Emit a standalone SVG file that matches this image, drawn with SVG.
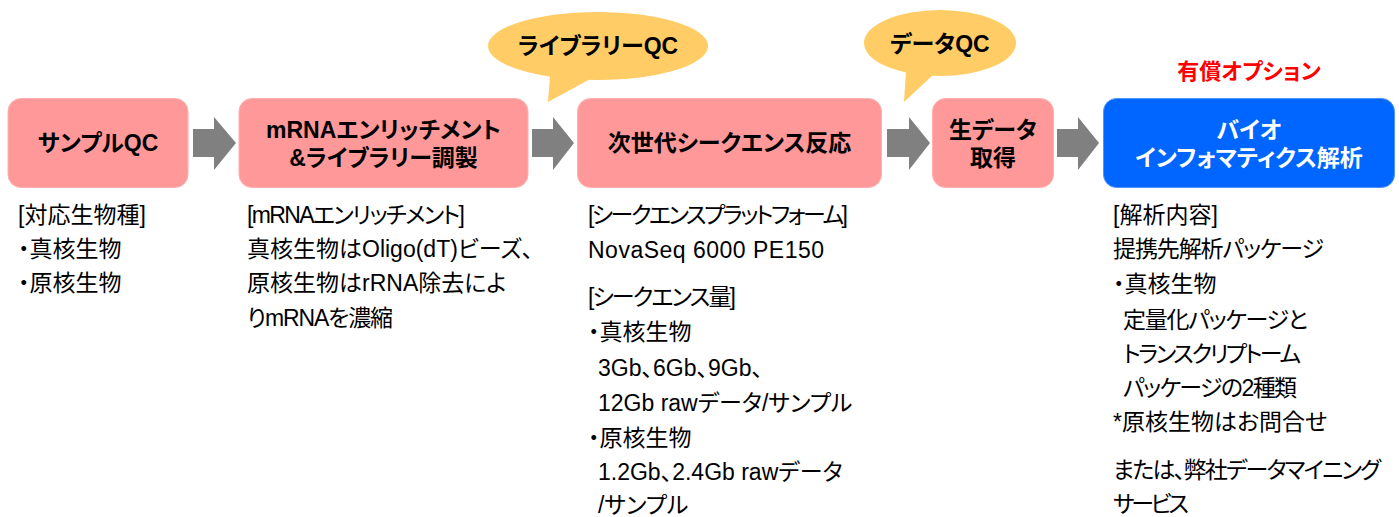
<svg xmlns="http://www.w3.org/2000/svg" width="1399" height="517" viewBox="0 0 1399 517">
<style>
text{font-family:"Liberation Sans","Noto Sans CJK JP",sans-serif;font-feature-settings:"palt";}
.box{fill:#FF9999;stroke:#FFB0B0;stroke-width:1;}
.blue{fill:#0066FF;stroke:#4D94FF;stroke-width:1;}
.ttl{font-size:23px;font-weight:bold;fill:#000;text-anchor:middle;}
.wt{fill:#fff;}
.body{font-size:23px;fill:#000;}
.call{fill:#FFCC66;}
.arr{fill:#808080;}
.red{font-size:22px;font-weight:bold;fill:#FF0000;text-anchor:middle;}
</style>
<g id="connectors">
<polygon class="arr" points="193,129 214,129 214,117 236,143 214,170 214,157 193,157"/>
<polygon class="arr" points="532,129 553,129 553,117 574,143 553,170 553,157 532,157"/>
<polygon class="arr" points="887,129 909,129 909,117 930,143 909,170 909,157 887,157"/>
<polygon class="arr" points="1057,129 1078,129 1078,117 1099,143 1078,170 1078,157 1057,157"/>
</g>
<g id="callout-library-qc">
<ellipse class="call" cx="598" cy="46" rx="110" ry="34"/>
<polygon class="call" points="550,76 548,102 592,78"/>
<text class="ttl" x="598" y="54">ライブラリーQC</text>
</g>
<g id="callout-data-qc">
<ellipse class="call" cx="940" cy="43" rx="76" ry="33"/>
<polygon class="call" points="906,71 904,102 934,74"/>
<text class="ttl" x="940" y="52">データQC</text>
</g>
<g id="node-sample-qc">
<rect class="box" x="8" y="98.5" width="180" height="89" rx="13"/>
<text class="ttl" x="98" y="151">サンプルQC</text>
<text class="body" x="18" y="223">[対応生物種]</text>
<text class="body" x="18" y="257">・真核生物</text>
<text class="body" x="18" y="291">・原核生物</text>
</g>
<g id="node-library">
<rect class="box" x="239" y="98.5" width="289" height="89" rx="13"/>
<text class="ttl" x="383.5" y="138">mRNAエンリッチメント</text>
<text class="ttl" x="383.5" y="166">&amp;ライブラリー調製</text>
<text class="body" x="247" y="223" textLength="218">[mRNAエンリッチメント]</text>
<text class="body" x="247" y="257">真核生物はOligo(dT)ビーズ、</text>
<text class="body" x="247" y="291">原核生物はrRNA除去によ</text>
<text class="body" x="247" y="326" textLength="146">りmRNAを濃縮</text>
</g>
<g id="node-sequencing">
<rect class="box" x="577.5" y="98.5" width="304" height="89" rx="13"/>
<text class="ttl" x="729.5" y="151">次世代シークエンス反応</text>
<text class="body" x="588" y="223" textLength="260">[シークエンスプラットフォーム]</text>
<text class="body" x="588" y="258" textLength="236">NovaSeq 6000 PE150</text>
<text class="body" x="588" y="305" textLength="148">[シークエンス量]</text>
<text class="body" x="588" y="340">・真核生物</text>
<text class="body" x="598" y="376">3Gb、6Gb、9Gb、</text>
<text class="body" x="598" y="411">12Gb rawデータ/サンプル</text>
<text class="body" x="588" y="446">・原核生物</text>
<text class="body" x="598" y="480">1.2Gb、2.4Gb rawデータ</text>
<text class="body" x="598" y="513">/サンプル</text>
</g>
<g id="node-raw-data">
<rect class="box" x="932.5" y="98.5" width="121" height="89" rx="13"/>
<text class="ttl" x="993" y="138">生データ</text>
<text class="ttl" x="993" y="166">取得</text>
</g>
<g id="node-bioinformatics">
<text class="red" x="1249" y="79">有償オプション</text>
<rect class="blue" x="1103.5" y="98.5" width="291" height="89" rx="13"/>
<text class="ttl wt" x="1249" y="138">バイオ</text>
<text class="ttl wt" x="1249" y="166">インフォマティクス解析</text>
<text class="body" x="1113" y="223">[解析内容]</text>
<text class="body" x="1113" y="257" textLength="211">提携先解析パッケージ</text>
<text class="body" x="1113" y="292">・真核生物</text>
<text class="body" x="1123" y="328" textLength="185">定量化パッケージと</text>
<text class="body" x="1123" y="362" textLength="178">トランスクリプトーム</text>
<text class="body" x="1123" y="396" textLength="174">パッケージの2種類</text>
<text class="body" x="1113" y="430">*原核生物はお問合せ</text>
<text class="body" x="1113" y="478" textLength="268">または、弊社データマイニング</text>
<text class="body" x="1113" y="512" textLength="76">サービス</text>
</g>
</svg>
